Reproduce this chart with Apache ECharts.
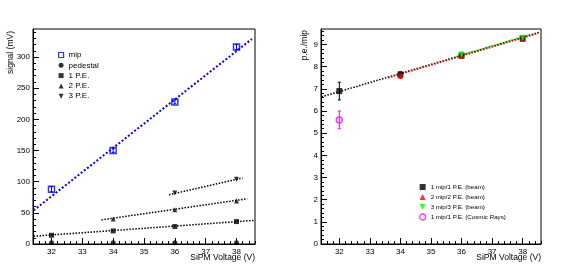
<!DOCTYPE html>
<html>
<head>
<meta charset="utf-8">
<script src="https://cdn.jsdelivr.net/npm/echarts@6/dist/echarts.min.js"></script>
<style>html,body{margin:0;padding:0;background:#fff}#c{width:575px;height:274px}</style>
</head>
<body>
<div id="c"></div>
<script>
// ---------- data ----------
const xMajor = [32, 33, 34, 35, 36, 37, 38];
const leftYMajor = [0, 50, 100, 150, 200, 250, 300];
const rightYMajor = [0, 1, 2, 3, 4, 5, 6, 7, 8, 9];

// left panel: signal (mV) vs SiPM voltage
const mipV = [32, 34, 36, 38];
const mipSignal = [88, 150, 228, 316];
const mipErr = [4, 3, 3, 4];
const pedV = [32, 34, 36, 38];
const pedSignal = [2, 2, 2, 2];
const pe1V = [32, 34, 36, 38];
const pe1Signal = [14, 21, 28, 36];
const pe2V = [34, 36, 38];
const pe2Signal = [40, 55, 69];
const pe3V = [36, 38];
const pe3Signal = [82, 104];
// fit lines (endpoints)
const mipFit = [[31.42, 54], [38.5, 329]];
const pe1Fit = [[31.42, 12.5], [38.55, 37.8]];
const pe2Fit = [[33.62, 38.7], [38.35, 72.6]];
const pe3Fit = [[35.81, 79], [38.2, 106]];

// right panel: p.e./mip vs SiPM voltage
const r1V = [32, 34, 36, 38];
const r1 = [6.9, 7.65, 8.5, 9.28];
const r1Err = [0.4, 0.12, 0.1, 0.1];
const r2V = [34, 36, 38];
const r2 = [7.6, 8.5, 9.25];
const r2Err = [0.12, 0.1, 0.1];
const r3V = [36, 38];
const r3 = [8.55, 9.3];
const r3Err = [0.1, 0.1];
const rcV = [32];
const rc = [5.6];
const rcErr = [0.4];
const rFit1 = [[31.42, 6.64], [38.57, 9.56]];
const rFit2 = [[33.6, 7.5], [38.45, 9.48]];
const rFit3 = [[35.8, 8.45], [38.22, 9.43]];

// ---------- helpers ----------
function minorTicks(a, b, step) {
  const out = [];
  for (let v = a; v <= b + 1e-9; v += step) out.push(Math.round(v * 1000) / 1000);
  return out;
}
const FONT = "'Liberation Sans', Arial, Helvetica, sans-serif";
const xMin = 31.4, xMax = 38.6;
const lMax = 345, rMax = 9.7;

function pts(xs, ys) { return xs.map((x, i) => [x, ys[i]]); }
function errs(xs, ys, es) { return xs.map((x, i) => [x, ys[i], es[i]]); }

function errSeries(name, data, xi, yi, color) {
  return {
    name: name, type: 'custom', xAxisIndex: xi, yAxisIndex: yi, data: data, z: 2, clip: true, silent: true,
    renderItem: function (params, api) {
      const x = api.value(0), y = api.value(1), e = api.value(2);
      const p1 = api.coord([x, y - e]), p2 = api.coord([x, y + e]);
      const st = { stroke: color, lineWidth: 1 };
      return { type: 'group', children: [
        { type: 'line', shape: { x1: p1[0], y1: p1[1], x2: p2[0], y2: p2[1] }, style: st },
        { type: 'line', shape: { x1: p1[0] - 1.5, y1: p1[1], x2: p1[0] + 1.5, y2: p1[1] }, style: st },
        { type: 'line', shape: { x1: p2[0] - 1.5, y1: p2[1], x2: p2[0] + 1.5, y2: p2[1] }, style: st }
      ]};
    }
  };
}
function fitSeries(name, data, xi, yi, color, w) {
  return {
    name: name, type: 'line', xAxisIndex: xi, yAxisIndex: yi, data: data, showSymbol: false, symbol: 'none',
    silent: true, z: 1, lineStyle: { color: color, width: w, type: [w, w] }
  };
}
function scat(name, data, xi, yi, symbol, size, style, rot) {
  return {
    name: name, type: 'scatter', xAxisIndex: xi, yAxisIndex: yi, data: data, symbol: symbol,
    symbolSize: size, symbolRotate: rot || 0, itemStyle: style, z: 3, silent: true
  };
}

function xAxes(gi) {
  return [
    { type: 'value', gridIndex: gi, min: xMin, max: xMax,
      axisLine: { show: true, onZero: false, lineStyle: { color: '#000', width: 1 } },
      axisTick: { show: true, inside: true, length: 6, customValues: xMajor, lineStyle: { color: '#000' } },
      axisLabel: { show: true, customValues: xMajor, margin: 4, color: '#000', fontSize: 8, fontFamily: FONT },
      splitLine: { show: false } },
    { type: 'value', gridIndex: gi, min: xMin, max: xMax, position: 'bottom',
      axisLine: { show: false },
      axisTick: { show: true, inside: true, length: 3, customValues: minorTicks(31.6, 38.6, 0.2), lineStyle: { color: '#000' } },
      axisLabel: { show: false }, splitLine: { show: false } }
  ];
}
function yAxes(gi, max, major, minor) {
  return [
    { type: 'value', gridIndex: gi, min: 0, max: max,
      axisLine: { show: true, onZero: false, lineStyle: { color: '#000', width: 1 } },
      axisTick: { show: true, inside: true, length: 6, customValues: major, lineStyle: { color: '#000' } },
      axisLabel: { show: true, customValues: major, margin: 3, color: '#000', fontSize: 8, fontFamily: FONT },
      splitLine: { show: false } },
    { type: 'value', gridIndex: gi, min: 0, max: max, position: 'left',
      axisLine: { show: false },
      axisTick: { show: true, inside: true, length: 3, customValues: minor, lineStyle: { color: '#000' } },
      axisLabel: { show: false }, splitLine: { show: false } }
  ];
}

const blueOpen = { color: 'rgba(255,255,255,0)', borderColor: '#0000ff', borderWidth: 1.5 };
const black = { color: '#000' };

const chart = echarts.init(document.getElementById('c'), null, { renderer: 'canvas' });
chart.setOption({
  backgroundColor: '#fff',
  animation: false,
  textStyle: { fontFamily: FONT },
  grid: [
    { left: 33, top: 29, width: 222, height: 215, show: true, borderColor: '#000', borderWidth: 1, backgroundColor: 'transparent' },
    { left: 321, top: 29, width: 220, height: 215, show: true, borderColor: '#000', borderWidth: 1, backgroundColor: 'transparent' }
  ],
  xAxis: [].concat(xAxes(0), xAxes(1)),
  yAxis: [].concat(
    yAxes(0, lMax, leftYMajor, minorTicks(0, 340, 10)),
    yAxes(1, rMax, rightYMajor, minorTicks(0, 9.6, 0.2))
  ),
  legend: [
    { orient: 'vertical', left: 53, top: 45, itemWidth: 5, itemHeight: 5, itemGap: 0.3, itemTextGap: 5,
      textStyle: { fontSize: 8, lineHeight: 10, color: '#000', fontFamily: FONT },
      selectedMode: false,
      data: [
        { name: 'mip', icon: 'rect', itemStyle: { color: 'rgba(255,255,255,0)', borderColor: '#0000ff', borderWidth: 1.2 } },
        { name: 'pedestal', icon: 'circle', itemStyle: black },
        { name: '1 P.E.', icon: 'rect', itemStyle: black },
        { name: '2 P.E.', icon: 'triangle', itemStyle: black },
        { name: '3 P.E.', icon: 'path://M0,0 L10,0 L5,10 Z', itemStyle: black }
      ] },
    { orient: 'vertical', left: 414, top: 177, itemWidth: 6, itemHeight: 6, itemGap: 0, itemTextGap: 11.5,
      textStyle: { fontSize: 6.2, lineHeight: 10, color: '#000', fontFamily: FONT },
      selectedMode: false,
      data: [
        { name: '1 mip/1 P.E. (beam)', icon: 'rect', itemStyle: black },
        { name: '2 mip/2 P.E. (beam)', icon: 'triangle', itemStyle: { color: '#ff0000' } },
        { name: '3 mip/3 P.E. (beam)', icon: 'path://M0,0 L10,0 L5,10 Z', itemStyle: { color: '#00ff00' } },
        { name: '1 mip/1 P.E. (Cosmic Rays)', icon: 'circle', itemStyle: { color: 'rgba(255,255,255,0)', borderColor: '#ff00ff', borderWidth: 1.3 } }
      ] }
  ],
  graphic: [
    { type: 'text', x: 11, y: 31, rotation: Math.PI / 2, style: { text: 'signal (mV)', fontSize: 8.5, fontFamily: FONT, fill: '#000', align: 'right', verticalAlign: 'middle' } },
    { type: 'text', x: 305, y: 30, rotation: Math.PI / 2, style: { text: 'p.e./mip', fontSize: 8.5, fontFamily: FONT, fill: '#000', align: 'right', verticalAlign: 'middle' } },
    { type: 'text', x: 255, y: 258, style: { text: 'SiPM Voltage (V)', fontSize: 8.5, fontFamily: FONT, fill: '#000', align: 'right', verticalAlign: 'middle' } },
    { type: 'text', x: 541, y: 258, style: { text: 'SiPM Voltage (V)', fontSize: 8.5, fontFamily: FONT, fill: '#000', align: 'right', verticalAlign: 'middle' } }
  ],
  series: [
    // left panel
    fitSeries('mipFit', mipFit, 0, 0, '#0000ff', 2),
    fitSeries('pe1Fit', pe1Fit, 0, 0, '#000', 1.5),
    fitSeries('pe2Fit', pe2Fit, 0, 0, '#000', 1.5),
    fitSeries('pe3Fit', pe3Fit, 0, 0, '#000', 1.5),
    errSeries('mipErr', errs(mipV, mipSignal, mipErr), 0, 0, '#0000ff'),
    scat('mip', pts(mipV, mipSignal), 0, 0, 'rect', 6, blueOpen),
    scat('pedestal', pts(pedV, pedSignal), 0, 0, 'circle', 5, black),
    scat('1 P.E.', pts(pe1V, pe1Signal), 0, 0, 'rect', 5, black),
    scat('2 P.E.', pts(pe2V, pe2Signal), 0, 0, 'triangle', 5, black),
    scat('3 P.E.', pts(pe3V, pe3Signal), 0, 0, 'triangle', 5, black, 180),
    // right panel
    fitSeries('rFit1', rFit1, 2, 2, '#000', 1.5),
    fitSeries('rFit2', rFit2, 2, 2, '#ff0000', 1.5),
    fitSeries('rFit3', rFit3, 2, 2, '#00ff00', 1.5),
    errSeries('r1Err', errs(r1V, r1, r1Err), 2, 2, '#000'),
    errSeries('r2Err', errs(r2V, r2, r2Err), 2, 2, '#ff0000'),
    errSeries('r3Err', errs(r3V, r3, r3Err), 2, 2, '#00ff00'),
    errSeries('rcErr', errs(rcV, rc, rcErr), 2, 2, '#ff00ff'),
    scat('1 mip/1 P.E. (beam)', pts(r1V, r1), 2, 2, 'rect', 6, black),
    scat('2 mip/2 P.E. (beam)', pts(r2V, r2), 2, 2, 'triangle', 6, { color: '#ff0000' }),
    scat('3 mip/3 P.E. (beam)', pts(r3V, r3), 2, 2, 'triangle', 6, { color: '#00ff00' }, 180),
    scat('1 mip/1 P.E. (Cosmic Rays)', pts(rcV, rc), 2, 2, 'circle', 6, { color: 'rgba(255,255,255,0)', borderColor: '#ff00ff', borderWidth: 1.5 })
  ]
});
</script>
</body>
</html>
